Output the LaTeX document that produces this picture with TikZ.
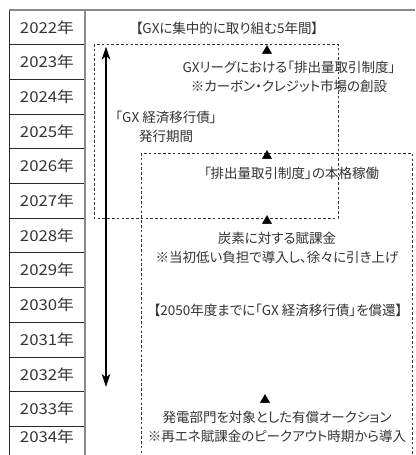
\documentclass[tikz,border=0pt]{standalone}
\usepackage{fontspec}
\setmainfont[RawFeature=+palt]{Noto Sans CJK JP}
\newfontfamily\yearfont[FakeStretch=1.12]{Noto Sans CJK JP}
\usetikzlibrary{arrows.meta}
\definecolor{txt}{HTML}{333333}
\definecolor{frame}{HTML}{8A8A8A}
\definecolor{cellline}{HTML}{2A2A2A}
\tikzset{
  yearlabel/.style={font=\yearfont\fontsize{15}{16}\selectfont, text=txt, inner sep=0pt},
  label/.style={font=\fontsize{13.5}{19}\selectfont, text=txt, align=center, inner sep=0pt},
  tri/.style={font=\fontsize{11}{12}\selectfont, text=black, inner sep=0pt},
  dbox/.style={draw=txt, line width=0.8pt, dash pattern=on 2.6pt off 2.2pt},
  cellrule/.style={draw=cellline, line width=0.9pt},
  framerule/.style={draw=frame, line width=1.6pt},
}
\begin{document}
\begin{tikzpicture}[x=1pt,y=-1pt]
\useasboundingbox (0,0) rectangle (415,455);
% year cells
\foreach \i in {1,...,12} {
  \pgfmathsetmacro{\yy}{10+34.7*\i}
  \draw[cellrule] (9.5,\yy) -- (85,\yy);
}
\draw[cellrule] (9.5,10) -- (9.5,470);
\foreach \i in {0,...,11} {
  \pgfmathtruncatemacro{\yr}{2022+\i}
  \pgfmathsetmacro{\yc}{10+34.7*\i+17.35}
  \node[yearlabel] (y\yr) at (47,\yc) {\yr 年};
}
\node[yearlabel] (y2034) at (47,437) {2034年};
\draw[framerule] (8.7,10) -- (415,10);
\draw[framerule] (85,10) -- (85,470);
% dashed boxes
\draw[dbox] (94,44) rectangle (338,218);
\draw[dbox] (141,153) rectangle (412,480);
% arrow
\coordinate (atop) at (106,46.5);
\coordinate (abot) at (106,387);
\draw[line width=1.1pt, black, {Stealth[length=13pt,width=8.5pt,inset=3.5pt]}-{Stealth[length=13pt,width=8.5pt,inset=3.5pt]}] (atop) -- (abot);
% texts
\node[label] (title) at (227,28) {【GXに集中的に取り組む5年間】};
\node[label] (league) at (289,77) {GXリーグにおける「排出量取引制度」\\※カーボン・クレジット市場の創設};
\node[label] (bond) at (166,126.5) {「GX 経済移行債」\\発行期間};
\node[label] (ets) at (291.5,173) {「排出量取引制度」の本格稼働};
\node[label] (levy) at (277,248) {炭素に対する賦課金\\※当初低い負担で導入し、徐々に引き上げ};
\node[label] (redeem) at (278,310) {【2050年度までに「GX 経済移行債」を償還】};
\node[label] (auction) at (277,426.5) {発電部門を対象とした有償オークション\\※再エネ賦課金のピークアウト時期から導入};
% triangles
\node[tri] (t1) at (267,49.5) {▲};
\node[tri] (t2) at (267,155) {▲};
\node[tri] (t3) at (267,219.5) {▲};
\node[tri] (t4) at (265,399) {▲};
\end{tikzpicture}
\end{document}
